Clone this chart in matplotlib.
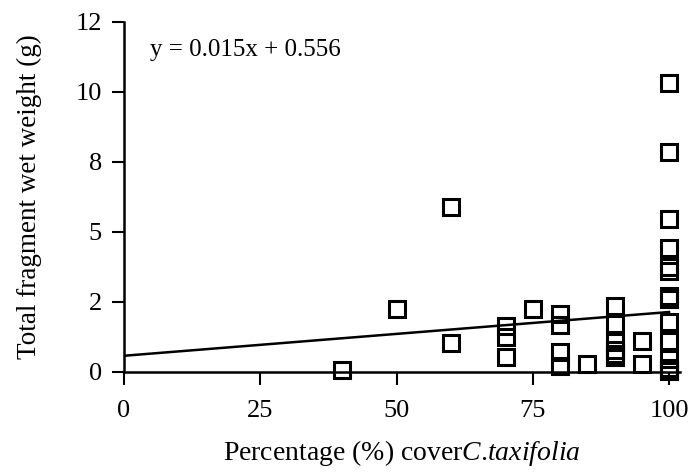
import numpy as np
import matplotlib
matplotlib.use("Agg")
import matplotlib.pyplot as plt

# data
cover = [40, 50, 60, 60,
         70, 70, 70, 75,
         80, 80, 80, 80, 85,
         90, 90, 90, 90, 90, 90,
         95, 95,
         100, 100, 100, 100, 100, 100, 100, 100, 100, 100, 100, 100, 100, 100]
weight = [0.08, 2.17, 5.65, 0.98,
          1.58, 1.19, 0.50, 2.17,
          1.99, 1.61, 0.67, 0.22, 0.27,
          2.25, 1.66, 1.04, 0.77, 0.63, 0.51,
          1.06, 0.29,
          9.92, 7.53, 5.26, 4.24, 3.60, 3.47, 2.60, 2.50, 1.70, 1.07, 0.45, 0.15, 0.08, 0.03]
slope = 0.015
intercept = 0.556
yticks = [0, 2.4, 4.8, 7.2, 9.6, 12]
ytick_labels = ["0", "2", "5", "8", "10", "12"]
xticks = [0, 25, 50, 75, 100]

plt.rcParams["font.family"] = "Liberation Serif"
plt.rcParams["mathtext.fontset"] = "custom"
plt.rcParams["mathtext.rm"] = "Liberation Serif"
plt.rcParams["mathtext.it"] = "Liberation Serif:italic"

fig = plt.figure(figsize=(6.91, 4.72), dpi=100)
ax = fig.add_axes([0.1795, 0.2119, 0.8045, 0.7415])

xl = np.array([0, 100])
ax.plot(xl, intercept + slope * xl, color="black", lw=1.8, zorder=2)
ax.plot(cover, weight, ls="none", marker="s", ms=12, mfc="none",
        mec="black", mew=2.2, clip_on=False, zorder=3)

ax.set_xlim(0, 102)
ax.set_ylim(0, 12)
ax.set_xticks(xticks)
ax.set_yticks(yticks)
ax.set_yticklabels(ytick_labels)

for s in ["top", "right"]:
    ax.spines[s].set_visible(False)
for s in ["left", "bottom"]:
    ax.spines[s].set_linewidth(1.8)
ax.tick_params(direction="out", length=9, width=1.5, labelsize=19)
ax.tick_params(axis="x", pad=11)
ax.tick_params(axis="y", pad=7)

ax.text(0.047, 0.92, "y = 0.015x + 0.556", transform=ax.transAxes,
        ha="left", va="center", fontsize=18)

ax.set_xlabel(r"Percentage (%) cover$\mathit{C}$.$\mathit{taxifolia}$", fontsize=20, labelpad=12)
ax.set_ylabel("Total fragment wet weight (g)", fontsize=19.5, labelpad=24)

fig.savefig("out.png", dpi=100)
